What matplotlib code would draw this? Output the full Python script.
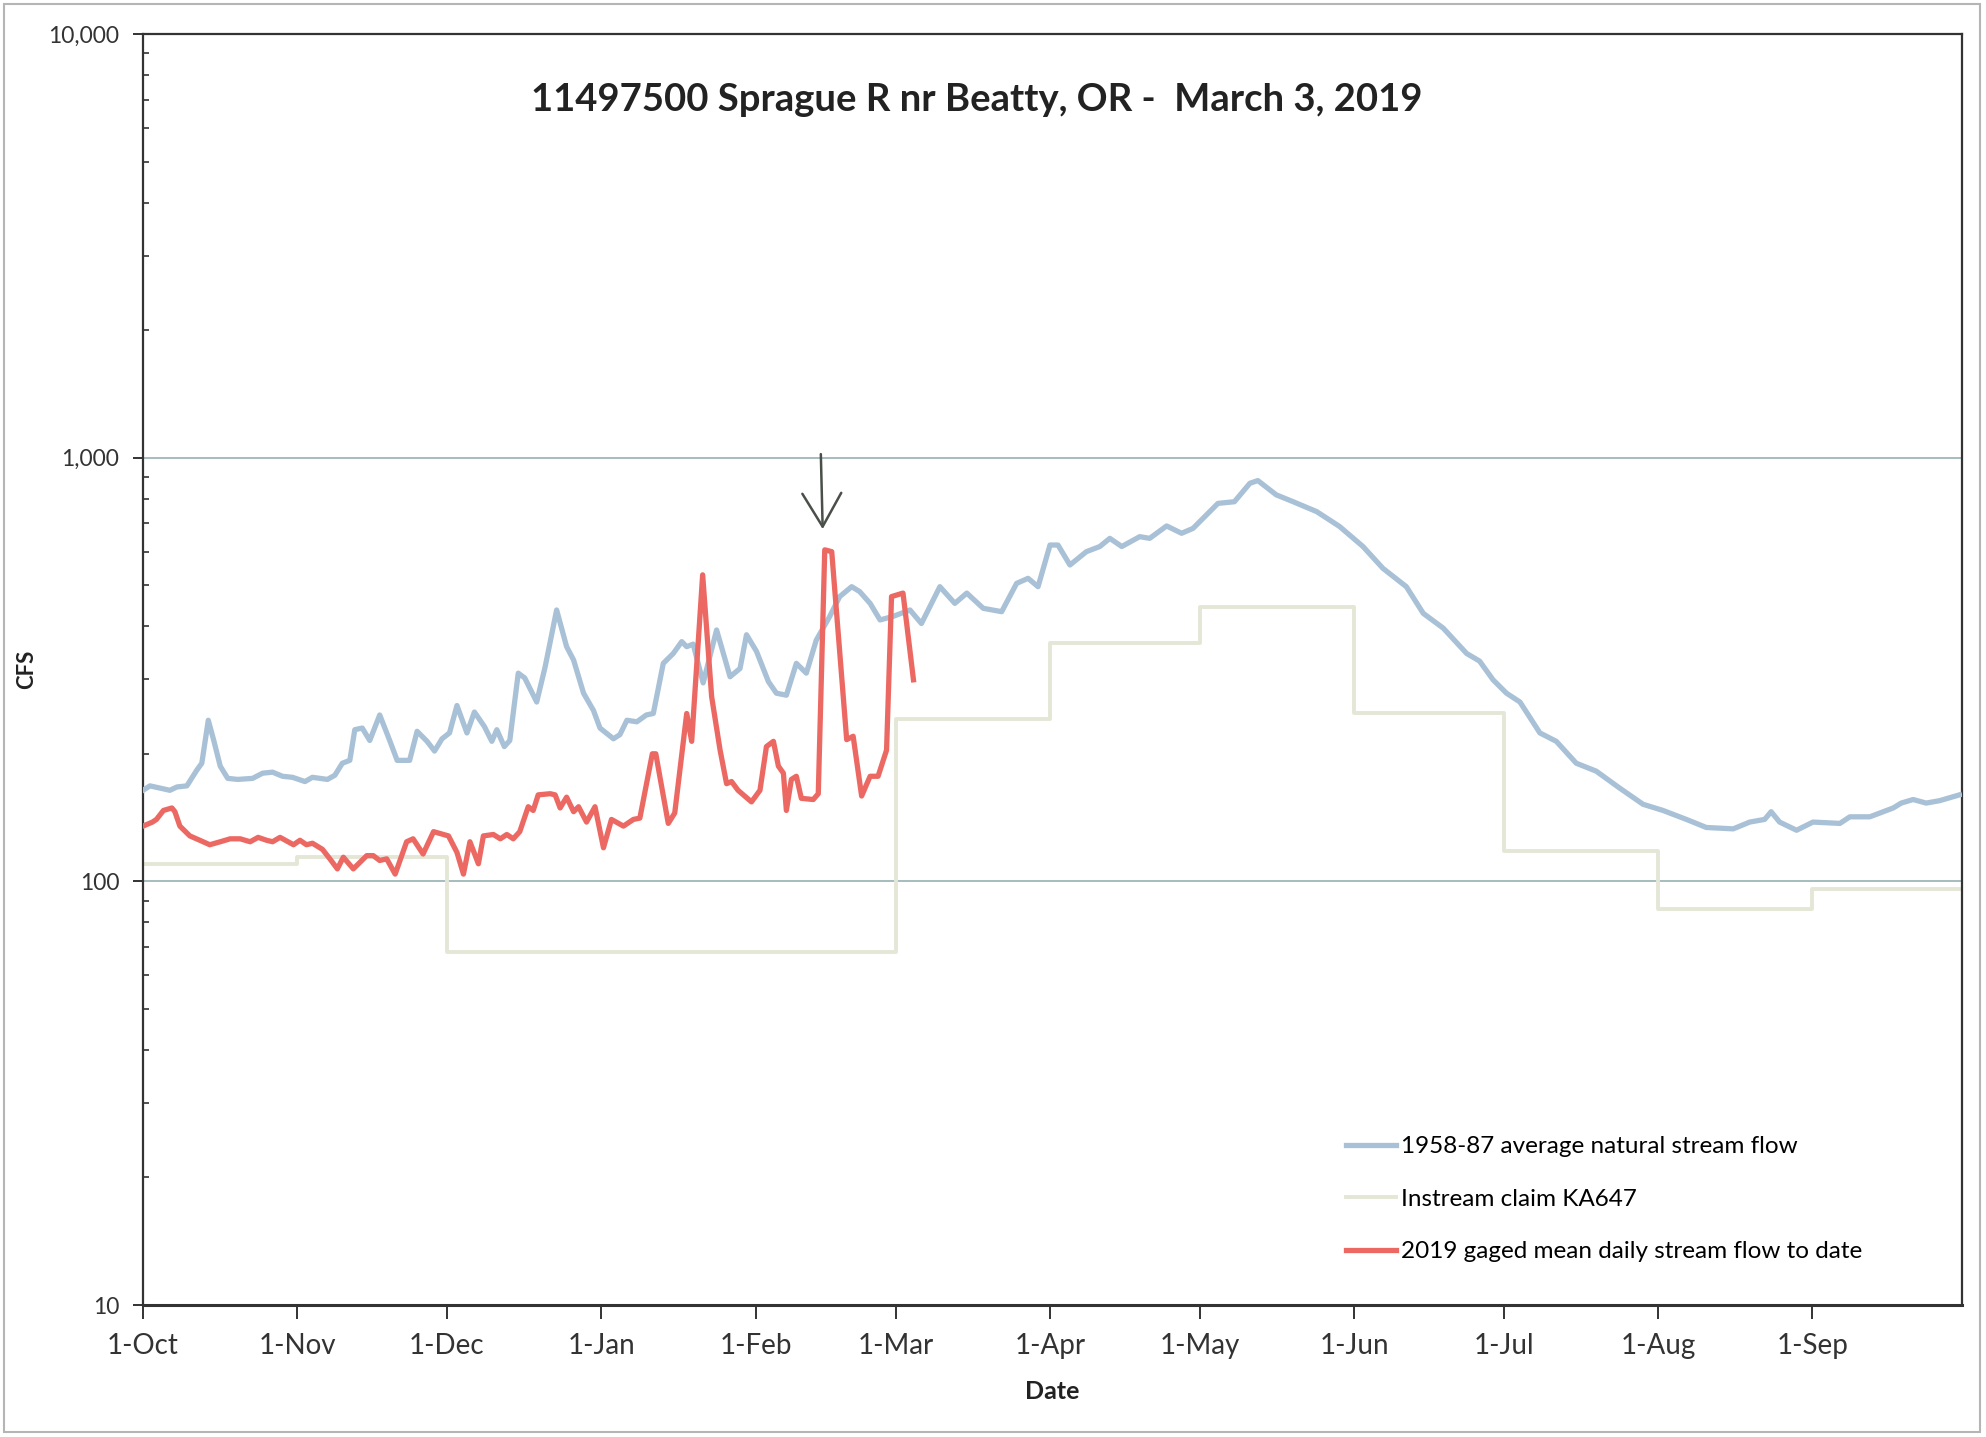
import matplotlib
matplotlib.use("Agg")
import matplotlib.pyplot as plt
from matplotlib.ticker import FixedLocator, FuncFormatter, LogLocator, NullFormatter
from matplotlib.patches import Rectangle

plt.rcParams['font.family'] = ['Lato', 'DejaVu Sans']

# x is days since 1-Oct-2018
month_days = [0, 31, 61, 92, 123, 151, 182, 212, 243, 273, 304, 335]
month_labels = ['1-Oct', '1-Nov', '1-Dec', '1-Jan', '1-Feb', '1-Mar',
                '1-Apr', '1-May', '1-Jun', '1-Jul', '1-Aug', '1-Sep']

# 1958-87 average natural stream flow (cfs)
avg_days = [0, 1.4, 3.4, 5.4, 6.8, 8.8, 10.8, 11.8, 13.1, 14.2, 15.5, 17, 19, 22, 24,
            26, 28, 30, 32.5, 34, 37, 38.5, 40, 41.5, 42.5, 44, 45.5, 47.5, 49.5, 51,
            53.5, 55, 57, 58.5, 60, 61.5, 63, 65, 66.5, 68.5, 70, 71, 72.5, 73.6, 75.3,
            76.6, 79, 80.7, 83, 85, 86.4, 88.4, 90.4, 91.7, 94.4, 95.7, 97.1, 99.1, 101,
            102.4, 104.4, 106.4, 108.1, 109.1, 110.4, 112.4, 115.1, 117.8, 119.8, 121.1,
            123.1, 125.5, 127.1, 129.1, 131.1, 133.1, 135.1, 137.8, 139.8, 142.2, 143.8,
            145.9, 147.9, 150.5, 153.9, 156.2, 159.9, 162.9, 165.3, 168.6, 172.3, 175.3,
            177.6, 179.6, 182, 183.6, 186, 189.3, 192, 194, 196.4, 200, 202, 205.4, 208.4,
            210.7, 215.7, 219, 222.1, 223.7, 227.4, 230.8, 235.5, 240.1, 244.8, 248.8,
            253.5, 256.9, 260.9, 265.6, 268.2, 270.9, 273.6, 276.3, 280.3, 283.6, 287.6,
            291.6, 296.3, 301, 305, 309.7, 313.7, 319.1, 322.4, 325.4, 326.7, 328.4, 331.8,
            335.1, 340.5, 342.5, 346.5, 351.2, 352.8, 355.2, 357.8, 360.5, 364.5]
avg_flow = [164, 168, 166, 164, 167, 168, 183, 190, 240, 215, 187, 175, 174, 175, 180,
            181, 177, 176, 172, 176, 174, 178, 190, 193, 228, 230, 215, 247, 215, 193,
            193, 226, 214, 203, 217, 224, 260, 224, 251, 232, 214, 228, 208, 215, 310,
            302, 265, 321, 437, 358, 333, 278, 253, 230, 217, 222, 240, 238, 247,
            249, 327, 345, 368, 358, 363, 294, 392, 304, 318, 382,
            349, 296, 278, 275, 327, 310, 371, 422, 470, 496, 483,
            453, 414, 422, 437, 406, 496, 453, 479, 441, 433, 505,
            519, 496, 622, 622, 558, 600, 617, 645, 617, 651, 645, 690, 663,
            681, 780, 787, 870, 883, 817, 787, 746, 688, 617, 548,
            496, 429, 396, 345, 331, 299, 278, 265, 224, 214, 190,
            182, 166, 152, 147, 140, 134, 133, 138, 140, 146, 138, 132,
            138, 137, 142, 142, 149, 153, 156, 153, 155, 160]

# Instream claim KA647 (cfs), monthly steps
claim_days = [0, 31, 61, 151, 182, 212, 243, 273, 304, 335, 365]
claim_flow = [110, 114, 68, 241, 365, 445, 250, 118, 86, 96, 96]

# 2019 gaged mean daily stream flow to date (cfs)
gaged_days = [0, 1.9, 2.7, 4.1, 5.8, 6.4, 7.4, 9.4, 11.4, 13.4, 15.5, 17.5, 19.5, 21.5,
              23.1, 24.8, 26, 27.5, 30.2, 31.5, 32.8, 34, 36, 37.5, 39, 40.2, 42.2, 44.9,
              46.2, 47.5, 48.9, 50.6, 52.9, 54.2, 56.2, 58.3, 61.3, 63, 64.3, 65.6, 67.3,
              68.3, 70.3, 71.7, 73, 74.3, 75.6, 77.3, 78.3, 79.3, 81.7, 82.7, 83.7, 85,
              86.4, 87.4, 89, 90.7, 92.4, 94, 96.4, 98.4, 99.7, 102.2, 102.9, 103.7, 105.4,
              106.7, 109.1, 110.1, 112.3, 114.1, 115.8, 117.1, 118.1, 119.4, 122.1, 123.8,
              125.1, 126.5, 127.5, 128.5, 129.1, 130.1, 131.1, 132.1, 134.5, 135.5, 136.8,
              138.2, 141.2, 142.5, 144.2, 145.9, 147.5, 149.2, 150.2, 152.5, 154.6]
gaged_flow = [135, 138, 140, 147, 149, 146, 135, 128, 125, 122, 124, 126, 126, 124,
              127, 125, 124, 127, 122, 125, 122, 123, 119, 113, 107, 114, 107, 115,
              115, 112, 113, 104, 124, 126, 116, 131, 128, 117, 104, 124, 110,
              128, 129, 126, 129, 126, 131, 150, 147, 160, 161, 160, 149, 158,
              146, 150, 138, 150, 120, 140, 135, 140, 141, 200, 200, 177, 137,
              145, 249, 214, 529, 273, 204, 170, 172, 164, 154, 164,
              208, 214, 187, 180, 147, 174, 177, 157, 156, 161, 606,
              600, 216, 220, 159, 177, 177, 204, 470, 479, 299]

fig = plt.figure(figsize=(19.86, 14.37), dpi=100)
ax = fig.add_axes([143/1986, 1 - 1305/1437, 1819/1986, 1271/1437])

ax.plot(claim_days, claim_flow, drawstyle='steps-post', color='#e4e7d6', lw=2.8,
        label='Instream claim KA647', zorder=2)
ax.plot(avg_days, avg_flow, color='#a9c1d6', lw=3.8,
        label='1958-87 average natural stream flow', zorder=3)
ax.plot(gaged_days, gaged_flow, color='#ec6963', lw=3.8,
        label='2019 gaged mean daily stream flow to date', zorder=4)

ax.set_yscale('log')
ax.set_ylim(10, 10000)
ax.set_xlim(0, 365)
ax.yaxis.set_major_locator(FixedLocator([10, 100, 1000, 10000]))
ax.yaxis.set_major_formatter(FuncFormatter(lambda v, p: '{:,.0f}'.format(v)))
ax.yaxis.set_minor_locator(LogLocator(base=10, subs=range(2, 10)))
ax.yaxis.set_minor_formatter(NullFormatter())
ax.xaxis.set_major_locator(FixedLocator(month_days))
ax.set_xticklabels(month_labels)

ax.grid(axis='y', which='major', color='#9fb6b6', lw=1.3, zorder=1)
for s in ax.spines.values():
    s.set_color('#333333')
    s.set_linewidth(1.6)
ax.spines['bottom'].set_linewidth(2.2)

ax.tick_params(axis='y', which='major', direction='out', length=7, width=1.4,
               labelsize=16.5, pad=10, colors='#333333')
ax.tick_params(axis='y', which='minor', direction='in', length=4, width=1.2,
               colors='#333333')
ax.tick_params(axis='x', which='major', direction='out', length=10, width=1.4,
               labelsize=20, pad=10, colors='#333333')

ax.set_xlabel('Date', fontsize=18, fontweight='bold', labelpad=15, color='#222222')
ax.set_ylabel('CFS', fontsize=16, fontweight='bold', labelpad=8, color='#222222')

# hand-drawn arrow pointing at the Feb peak
ax.annotate('', xy=(136.4, 668), xytext=(136.0, 1035),
            arrowprops=dict(arrowstyle='->,head_length=1.2,head_width=0.7',
                            color='#4a4f4a', lw=1.8, mutation_scale=20))

h, l = ax.get_legend_handles_labels()
order = [1, 0, 2]
ax.legend([h[i] for i in order], [l[i] for i in order], loc='upper left',
          bbox_to_anchor=(1346/1986, 1 - 1136/1437), bbox_transform=fig.transFigure,
          frameon=False, fontsize=17.5, handlelength=2.05, handletextpad=0.2,
          labelspacing=1.3, borderpad=0, borderaxespad=0)

fig.text(977/1986, 1 - 100/1437, '11497500 Sprague R nr Beatty, OR -  March 3, 2019',
         ha='center', va='center', fontsize=27.5, fontweight='bold', color='#222222')

fig.patches.append(Rectangle((4/1986, 5/1437), 1976/1986, 1428/1437,
                             transform=fig.transFigure, fill=False,
                             edgecolor='#b5b5b5', lw=1.5))

fig.savefig('out.png', dpi=100)
